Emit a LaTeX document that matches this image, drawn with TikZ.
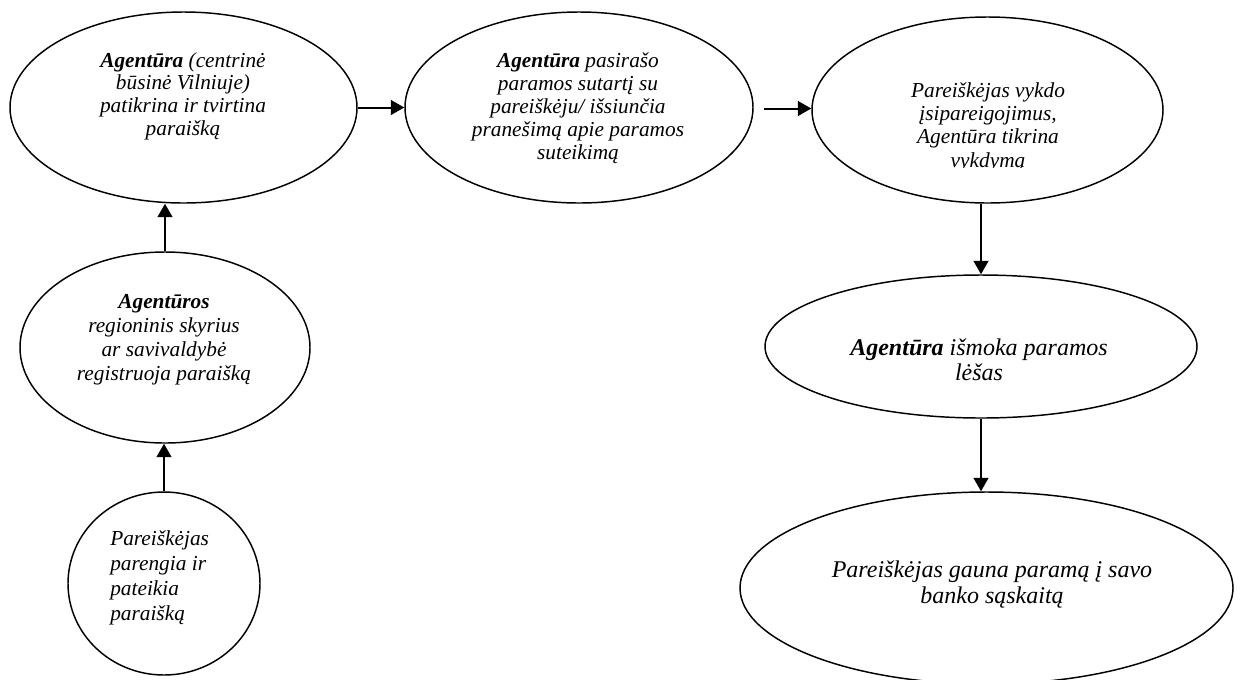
\documentclass[tikz,border=0pt]{standalone}
\usepackage{fontspec}
\setmainfont{Liberation Serif}
\usetikzlibrary{arrows.meta,calc,shapes.geometric}
\newcommand\myag[1]{{\bfseries #1}}
\newcommand\mysa{\rule{0pt}{13pt}}
\newcommand\mysb{\rule{0pt}{14pt}}
\begin{document}
\begin{tikzpicture}[x=0.75pt,y=-0.75pt,
  oval/.style={draw, ellipse, line width=1.1pt, inner sep=0pt},
  arr/.style={line width=1.5pt, -{Triangle[length=10pt,width=11pt]}},
  txt/.style={align=center, inner sep=0pt, anchor=north},
  small/.style={font=\fontsize{16pt}{#1}\selectfont\itshape},
  big/.style={font=\fontsize{18pt}{#1}\selectfont\itshape}]
\useasboundingbox (0,0) rectangle (1252,679);
\clip (0,0) rectangle (1252,679);
% ellipses
\node[oval, minimum width={347*0.75pt}, minimum height={191*0.75pt}] (e1) at (183.5,107.5) {};
\node[oval, minimum width={348*0.75pt}, minimum height={191*0.75pt}] (e2) at (579,107.5) {};
\node[oval, minimum width={351*0.75pt}, minimum height={186*0.75pt}] (e3) at (987.5,110) {};
\node[oval, minimum width={432*0.75pt}, minimum height={143*0.75pt}] (e4) at (981,346.5) {};
\node[oval, minimum width={493*0.75pt}, minimum height={192*0.75pt}] (e5) at (986.5,588) {};
\node[oval, minimum width={290*0.75pt}, minimum height={191*0.75pt}] (e6) at (165,347.5) {};
\node[oval, minimum width={192*0.75pt}, minimum height={183*0.75pt}] (e7) at (164,583.5) {};
% texts
\node[txt, small=17pt] (t1) at (183,49.7) {\mysa\myag{Agentūra} (centrinė\\ būsinė Vilniuje)\\ patikrina ir tvirtina\\ paraišką};
\node[txt, small=17.25pt] (t2) at (578,49.7) {\mysa\myag{Agentūra} pasirašo\\ paramos sutartį su\\ pareiškėju/ išsiunčia\\ pranešimą apie paramos\\ suteikimą};
\begin{scope}
\clip (800,20) rectangle (1180,167.7);
\node[txt, small=17.5pt] (t3) at (988,79.7) {\mysa Pareiškėjas vykdo\\ įsipareigojimus,\\ Agentūra tikrina\\ vykdymą};
\end{scope}
\node[txt, small=18pt] (t6) at (164,290.7) {\mysa\myag{Agentūros}\\ regioninis skyrius\\ ar savivaldybė\\ registruoja paraišką};
\node[txt, small=18.75pt, align=left, anchor=north west] (t7) at (110,527.7) {\mysa Pareiškėjas\\ parengia ir\\ pateikia\\ paraišką};
\node[txt, big=18.75pt] (t4) at (979,336.3) {\mysb\myag{Agentūra} išmoka paramos\\ lėšas};
\node[txt, big=19.5pt] (t5) at (992,558.3) {\mysb Pareiškėjas gauna paramą į savo\\ banko sąskaitą};
% connectors
\draw[arr] (e1.east) -- (e1.east -| e2.west);
\coordinate (a2s) at ($(e2.east)+(10,1)$);
\draw[arr] (a2s) -- (a2s -| e3.west);
\draw[arr] (e4.north |- e3.south) -- (e4.north);
\draw[arr] (e4.south) -- (e4.south |- e5.north);
\draw[arr] (e6.north) -- (e6.north |- e1.south);
\draw[arr] (e7.north) -- (e7.north |- e6.south);
\end{tikzpicture}
\end{document}
